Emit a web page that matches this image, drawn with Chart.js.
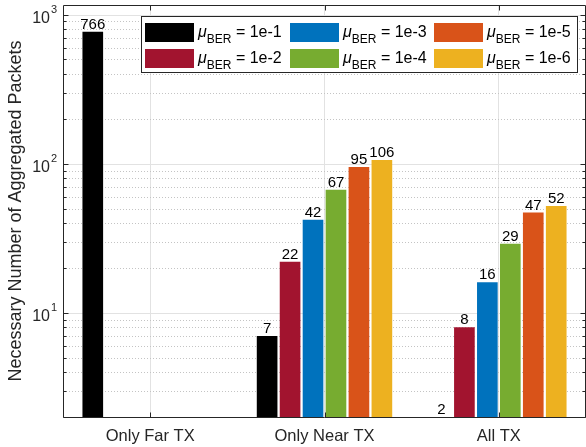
<!DOCTYPE html>
<html>
<head>
<meta charset="utf-8">
<script src="https://cdn.jsdelivr.net/npm/chart.js@4/dist/chart.umd.min.js"></script>
<style>
  html, body { margin: 0; padding: 0; background: #ffffff; }
  #wrap { width: 586px; height: 447px; position: relative; }
  canvas { display: block; }
</style>
</head>
<body>
<div id="wrap"><canvas id="c" width="586" height="447"></canvas></div>
<script>
// Categories (transmitter sets) and one series per BER target
const categories = ['Only Far TX', 'Only Near TX', 'All TX'];
const berLevels = ['1e-1', '1e-2', '1e-3', '1e-4', '1e-5', '1e-6'];
const ber1e1 = [766, 7, 2];
const ber1e2 = [null, 22, 8];
const ber1e3 = [null, 42, 16];
const ber1e4 = [null, 67, 29];
const ber1e5 = [null, 95, 47];
const ber1e6 = [null, 106, 52];
const seriesColors = ['#000000', '#A2142F', '#0072BD', '#77AC30', '#D95319', '#EDB120'];

// Log axis: labelled decades (exponents) and limits
const yDecadeExponents = [1, 2, 3];
const yMin = 2;
const yMax = 1160;

const FONT = '"Liberation Sans", Arial, Helvetica, sans-serif';
const AXIS_COLOR = '#262626';

const seriesValues = [ber1e1, ber1e2, ber1e3, ber1e4, ber1e5, ber1e6];

// grid values: every integer multiple inside each decade
const yGridValues = [];
for (let e = 0; e <= 3; e++) {
  for (let m = 1; m <= 9; m++) {
    const v = m * Math.pow(10, e);
    if (v >= yMin && v <= yMax) yGridValues.push(v);
  }
}
const isDecade = v => Math.abs(Math.log10(v) - Math.round(Math.log10(v))) < 1e-9;

const axesPlugin = {
  id: 'axesDecor',
  beforeDatasetsDraw(chart) {
    const { ctx, chartArea: a, scales: { y } } = chart;
    ctx.save();
    ctx.beginPath();
    ctx.rect(a.left, a.top, a.right - a.left, a.bottom - a.top);
    ctx.clip();
    ctx.lineWidth = 1;
    for (const v of yGridValues) {
      const py = Math.round(y.getPixelForValue(v)) + 0.5;
      const major = isDecade(v);
      ctx.strokeStyle = major ? '#e2e2e2' : '#c4c4c4';
      ctx.setLineDash(major ? [] : [1, 2]);
      ctx.beginPath();
      ctx.moveTo(a.left, py);
      ctx.lineTo(a.right, py);
      ctx.stroke();
    }
    ctx.restore();
  },
  afterDatasetsDraw(chart) {
    const { ctx, chartArea: a, scales: { x, y } } = chart;
    ctx.save();

    // value labels above bars
    ctx.fillStyle = '#000000';
    ctx.font = '15px ' + FONT;
    ctx.textAlign = 'center';
    ctx.textBaseline = 'alphabetic';
    chart.data.datasets.forEach((ds, i) => {
      const meta = chart.getDatasetMeta(i);
      meta.data.forEach((el, j) => {
        const v = ds.data[j];
        if (v === null || v === undefined) return;
        ctx.fillText(String(v), el.x, el.y - 3);
      });
    });

    // axes box
    ctx.strokeStyle = AXIS_COLOR;
    ctx.lineWidth = 1;
    ctx.setLineDash([]);
    const L = Math.round(a.left) + 0.5, R = Math.round(a.right) - 0.5;
    const T = Math.round(a.top) + 0.5, B = Math.round(a.bottom) + 0.5;
    ctx.beginPath();
    ctx.moveTo(L, B); ctx.lineTo(L, T); ctx.lineTo(R, T); ctx.lineTo(R, B); ctx.lineTo(L, B);
    ctx.stroke();

    // inward ticks, left and right
    for (const v of yGridValues) {
      const py = Math.round(y.getPixelForValue(v)) + 0.5;
      const len = isDecade(v) ? 5 : 3;
      ctx.beginPath();
      ctx.moveTo(L, py); ctx.lineTo(L + len, py);
      ctx.moveTo(R, py); ctx.lineTo(R - len, py);
      ctx.stroke();
    }
    // inward ticks, bottom and top
    categories.forEach((c, i) => {
      const px = Math.round(x.getPixelForValue(i)) + 0.5;
      ctx.beginPath();
      ctx.moveTo(px, B); ctx.lineTo(px, B - 5);
      ctx.moveTo(px, T); ctx.lineTo(px, T + 5);
      ctx.stroke();
    });

    // decade labels 10^n
    ctx.fillStyle = AXIS_COLOR;
    for (const e of yDecadeExponents) {
      const py = y.getPixelForValue(Math.pow(10, e));
      ctx.font = '16px ' + FONT;
      ctx.textAlign = 'right';
      ctx.fillText('10', 50, py + 8);
      ctx.font = '11px ' + FONT;
      ctx.textAlign = 'left';
      ctx.fillText(String(e), 51, py - 2);
    }

    // y axis title
    ctx.save();
    ctx.translate(16, (a.top + a.bottom) / 2);
    ctx.rotate(-Math.PI / 2);
    ctx.font = '18px ' + FONT;
    ctx.textAlign = 'center';
    ctx.textBaseline = 'middle';
    ctx.fillText('Necessary Number of Aggregated Packets', 0, 0);
    ctx.restore();

    // legend
    const lx = 141.5, ly = 16.5, lw = 436, lh = 56;
    ctx.fillStyle = '#ffffff';
    ctx.fillRect(lx, ly, lw, lh);
    ctx.strokeStyle = AXIS_COLOR;
    ctx.strokeRect(lx, ly, lw, lh);
    const colX = [145, 290, 434];
    const rowY = [23, 49];
    berLevels.forEach((lvl, k) => {
      const col = Math.floor(k / 2), row = k % 2;
      const sx = colX[col], sy = rowY[row];
      ctx.fillStyle = seriesColors[k];
      ctx.fillRect(sx, sy, 49, 19);
      const tx = sx + 53, base = sy + 14;
      ctx.fillStyle = '#000000';
      ctx.textAlign = 'left';
      ctx.textBaseline = 'alphabetic';
      ctx.font = 'italic 16px ' + FONT;
      ctx.fillText('\u03BC', tx, base);
      const muW = ctx.measureText('\u03BC').width;
      ctx.font = '12px ' + FONT;
      ctx.fillText('BER', tx + muW, base + 5.5);
      const berW = ctx.measureText('BER').width;
      ctx.font = '16px ' + FONT;
      ctx.fillText(' = ' + lvl, tx + muW + berW, base);
    });

    ctx.restore();
  }
};

new Chart(document.getElementById('c'), {
  type: 'bar',
  data: {
    labels: categories,
    datasets: seriesValues.map((vals, k) => ({
      label: '\u03BC_BER = ' + berLevels[k],
      data: vals,
      backgroundColor: seriesColors[k],
      borderWidth: 0,
      categoryPercentage: 0.79,
      barPercentage: 0.9
    }))
  },
  options: {
    responsive: false,
    animation: false,
    devicePixelRatio: 1,
    layout: { padding: { top: 5, right: 0, left: 0, bottom: 0 } },
    plugins: {
      legend: { display: false },
      tooltip: { enabled: false },
      title: { display: false }
    },
    scales: {
      x: {
        type: 'category',
        offset: true,
        grid: { offset: false, color: '#e2e2e2', drawTicks: false },
        border: { display: false },
        ticks: { color: AXIS_COLOR, font: { family: FONT, size: 16.5 }, padding: 10, maxRotation: 0 },
        afterFit: s => { s.height = 30; }
      },
      y: {
        type: 'logarithmic',
        min: yMin,
        max: yMax,
        grid: { display: false },
        border: { display: false },
        ticks: { display: false },
        afterBuildTicks: s => { s.ticks = yDecadeExponents.map(e => ({ value: Math.pow(10, e) })); },
        afterFit: s => { s.width = 63; }
      }
    }
  },
  plugins: [axesPlugin]
});
</script>
</body>
</html>
